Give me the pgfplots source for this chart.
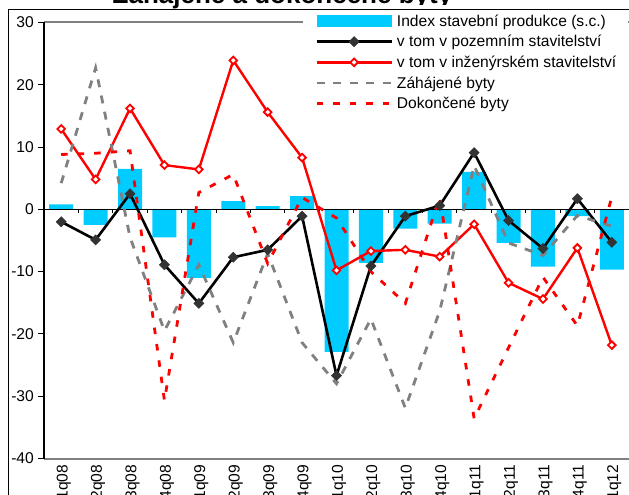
\documentclass[border=0pt]{standalone}
\usepackage{fontspec}
\setmainfont{Liberation Sans}
\usepackage{pgfplots}
\usepackage{pgfplotstable}
\pgfplotsset{compat=1.18}
\definecolor{barc}{HTML}{00CCFF}
\definecolor{gr}{HTML}{808080}
\definecolor{dk}{HTML}{333333}

\pgfplotstableread{
x bar poz inz zah dok
0  0.8  -2.0  12.9   4.2   8.8
1  -2.5 -4.9   4.8  22.7   9.0
2  6.5   2.5  16.2  -4.5   9.4
3  -4.5 -8.9   7.1 -19.5 -30.7
4  -11.0 -15.1 6.4  -8.9   2.7
5  1.3  -7.7  23.9 -21.4   5.6
6  0.5  -6.5  15.6  -7.1  -8.7
7  2.1  -1.1   8.3 -21.4   1.9
8  -22.9 -26.7 -9.8 -28.0 -1.4
9  -8.6 -9.1  -6.7 -17.6 -10.0
10 -3.1 -1.1  -6.5 -31.9 -15.1
11 -2.3  0.6  -7.6 -16.3   2.0
12  6.0  9.1  -2.4   7.0 -33.6
13 -5.4 -1.8 -11.8  -5.4 -22.2
14 -9.2 -6.3 -14.4  -7.4 -10.9
15 -1.1  1.7  -6.2  -1.0 -18.7
16 -9.7 -5.3 -21.8  -2.7   2.0
}\data

\begin{document}
\begin{tikzpicture}
\useasboundingbox (0pt,0pt) rectangle (629pt,-495pt);
\node[anchor=base, font=\fontsize{26}{30}\selectfont\bfseries] at (282.5pt,-4pt) {Zahájené a dokončené byty};
\begin{axis}[
  at={(44pt,-458.5pt)}, anchor=south west,
  scale only axis, width=585pt, height=436.1pt,
  xmin=-0.5, xmax=16.5, ymin=-40, ymax=30,
  ytick={-40,-30,...,30},
  xtick={0,...,16},
  xticklabels={1q08,2q08,3q08,4q08,1q09,2q09,3q09,4q09,1q10,2q10,3q10,4q10,1q11,2q11,3q11,4q11,1q12},
  axis x line*=box, axis y line*=left,
  separate axis lines,
  x axis line style={gr, line width=2pt},
  y axis line style={black, line width=1.5pt},
  tick align=outside,
  major tick length=6pt,
  xtick style={draw=none},
  ytick style={black, line width=1pt},
  /pgf/number format/assume math mode=true,
  tick label style={font=\fontsize{15.6}{18}\selectfont},
  yticklabel style={anchor=east, inner sep=0pt, xshift=-4pt},
  xticklabel style={rotate=90, anchor=east, inner sep=0pt, yshift=-2.5pt},
  legend image code/.code={\draw[#1, mark repeat=2, mark phase=2] plot coordinates {(0pt,0pt) (37.5pt,0pt) (75pt,0pt)};},
  legend style={at={(0.4427,1.0413)}, anchor=north west, draw=none, fill=white,
    inner xsep=12pt, inner ysep=6pt, font=\fontsize{15.6}{18}\selectfont,
    row sep=0pt, column sep=4pt,
    nodes={inner sep=0pt, text height=15.5pt, text depth=5.2pt}},
  legend cell align=left,
]
\addplot[black, line width=1pt, ycomb, no marks, forget plot] coordinates {
  (0.5,-0.6) (1.5,-0.6) (2.5,-0.6) (3.5,-0.6) (4.5,-0.6) (5.5,-0.6) (6.5,-0.6) (7.5,-0.6)
  (8.5,-0.6) (9.5,-0.6) (10.5,-0.6) (11.5,-0.6) (12.5,-0.6) (13.5,-0.6) (14.5,-0.6) (15.5,-0.6)};
\addplot[ybar, bar width=24pt, fill=barc, draw=none,
  legend image code/.code={\fill[barc] (0pt,-6.2pt) rectangle (75pt,6.2pt);}]
  table[x=x, y=bar] {\data};
\addlegendentry{Index stavební produkce (s.c.)}
\addplot[black, line width=1pt, forget plot] coordinates {(-0.5,0) (16.5,0)};
\addplot[black, line width=2.6pt, mark=square*, mark size=3.6pt,
  mark options={rotate=45, fill=dk, draw=dk, line width=0.5pt, solid}]
  table[x=x, y=poz] {\data};
\addlegendentry{v tom v pozemním stavitelství}
\addplot[red, line width=2.4pt, mark=square*, mark size=2.7pt,
  mark options={rotate=45, fill=white, draw=red, line width=1.8pt, solid}]
  table[x=x, y=inz] {\data};
\addlegendentry{v tom v inženýrském stavitelství}
\addplot[gr, line width=2.8pt, dash pattern=on 8pt off 8.5pt, no marks]
  table[x=x, y=zah] {\data};
\addlegendentry{Záhájené byty}
\addplot[red, line width=2.8pt, dash pattern=on 6.5pt off 10pt, no marks]
  table[x=x, y=dok] {\data};
\addlegendentry{Dokončené byty}
\end{axis}
\draw[black, line width=1pt] (8pt,-10pt) rectangle (700pt,-600pt);
\end{tikzpicture}
\end{document}
